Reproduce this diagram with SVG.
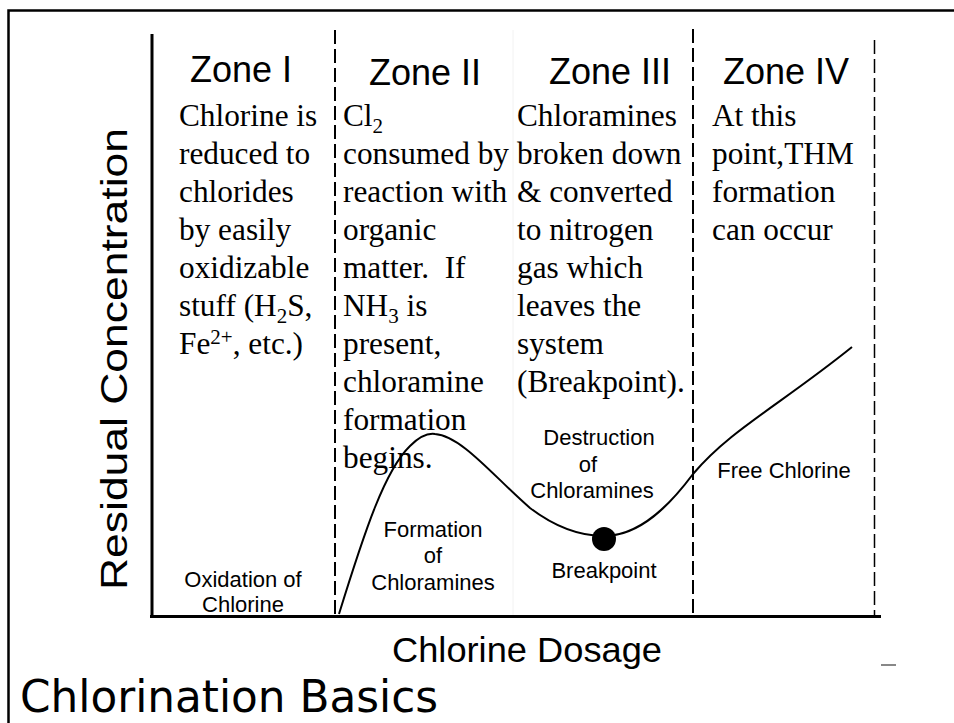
<svg xmlns="http://www.w3.org/2000/svg" width="954" height="723" viewBox="0 0 954 723">
<style>
.zone{font-family:"Liberation Sans",Arial,sans-serif;font-size:36px;fill:#000}
.body{font-family:"Liberation Serif","Times New Roman",serif;font-size:31.3px;fill:#000}
.lbl{font-family:"Liberation Sans",Arial,sans-serif;font-size:22px;fill:#000;text-anchor:middle}
.sub{font-size:21px}
.dash{stroke:#000;stroke-width:2;stroke-dasharray:14 5;fill:none}
</style>
<rect width="954" height="723" fill="#fff"/>
<g id="frame" stroke="#000" stroke-width="2.5" fill="none">
<path d="M8.5 723 V10.5 H954"/>
</g>
<g id="axes" stroke="#000" stroke-width="3" fill="none">
<line x1="152" y1="34" x2="152" y2="617"/>
<line x1="150" y1="616.5" x2="881" y2="616.5"/>
</g>
<g id="zone-lines">
<line class="dash" x1="335" y1="30" x2="335" y2="615"/>
<line class="dash" x1="693" y1="29" x2="693" y2="615"/>
<line class="dash" x1="874.5" y1="40" x2="874.5" y2="615" style="stroke-width:1.5"/>
<line x1="513" y1="30" x2="513" y2="615" stroke="#f2f2f2" stroke-width="1"/>
</g>
<g id="curve">
<path d="M339 614 C365 530 385 470 410 446 C420 436 428 433 435 434 C462 436 495 478 530 508 C555 527 580 536 604 536 C640 536 670 505 693 474 C730 430 780 405 852 347" fill="none" stroke="#000" stroke-width="2"/>
<circle cx="604" cy="539" r="12" fill="#000"/>
</g>
<g id="zone1">
<text class="zone" x="190" y="82">Zone I</text>
<text class="body" x="179" y="126">Chlorine is</text>
<text class="body" x="179" y="164">reduced to</text>
<text class="body" x="179" y="202">chlorides</text>
<text class="body" x="179" y="240">by easily</text>
<text class="body" x="179" y="278">oxidizable</text>
<text class="body" x="179" y="316">stuff (H<tspan class="sub" dy="7">2</tspan><tspan dy="-7">S,</tspan></text>
<text class="body" x="179" y="354">Fe<tspan class="sub" dy="-10">2+</tspan><tspan dy="10">, etc.)</tspan></text>
<text class="lbl" x="243" y="587">Oxidation of</text>
<text class="lbl" x="243" y="612">Chlorine</text>
</g>
<g id="zone2">
<text class="zone" x="369" y="85">Zone II</text>
<text class="body" x="343" y="126">Cl<tspan class="sub" dy="7">2</tspan></text>
<text class="body" x="343" y="164">consumed by</text>
<text class="body" x="343" y="202">reaction with</text>
<text class="body" x="343" y="240">organic</text>
<text class="body" x="343" y="278" xml:space="preserve">matter.  If</text>
<text class="body" x="343" y="316">NH<tspan class="sub" dy="7">3</tspan><tspan dy="-7"> is</tspan></text>
<text class="body" x="343" y="354">present,</text>
<text class="body" x="343" y="392">chloramine</text>
<text class="body" x="343" y="430">formation</text>
<text class="body" x="343" y="468">begins.</text>
<text class="lbl" x="433" y="537">Formation</text>
<text class="lbl" x="433" y="563">of</text>
<text class="lbl" x="433" y="590">Chloramines</text>
</g>
<g id="zone3">
<text class="zone" x="549" y="84">Zone III</text>
<text class="body" x="517" y="126">Chloramines</text>
<text class="body" x="517" y="164">broken down</text>
<text class="body" x="517" y="202">&amp; converted</text>
<text class="body" x="517" y="240">to nitrogen</text>
<text class="body" x="517" y="278">gas which</text>
<text class="body" x="517" y="316">leaves the</text>
<text class="body" x="517" y="354">system</text>
<text class="body" x="517" y="392">(Breakpoint).</text>
<text class="lbl" x="599" y="445">Destruction</text>
<text class="lbl" x="588" y="472">of</text>
<text class="lbl" x="592" y="498">Chloramines</text>
<text class="lbl" x="604" y="578">Breakpoint</text>
</g>
<g id="zone4">
<text class="zone" x="723" y="84">Zone IV</text>
<text class="body" x="712" y="126">At this</text>
<text class="body" x="712" y="164">point,THM</text>
<text class="body" x="712" y="202">formation</text>
<text class="body" x="712" y="240">can occur</text>
<text class="lbl" x="784" y="478">Free Chlorine</text>
</g>
<g id="axis-labels">
<text class="zone" x="392" y="662" textLength="270" lengthAdjust="spacingAndGlyphs" style="font-size:35px">Chlorine Dosage</text>
<text class="zone" transform="translate(127 590) rotate(-90)" textLength="462" lengthAdjust="spacingAndGlyphs" style="font-size:36px">Residual Concentration</text>
</g>
<g id="title">
<text x="20" y="712" style="font-family:'DejaVu Sans',sans-serif;font-size:44px" textLength="418" lengthAdjust="spacingAndGlyphs">Chlorination Basics</text>
</g>
<rect x="881" y="664" width="15" height="2" fill="#888"/>
</svg>
